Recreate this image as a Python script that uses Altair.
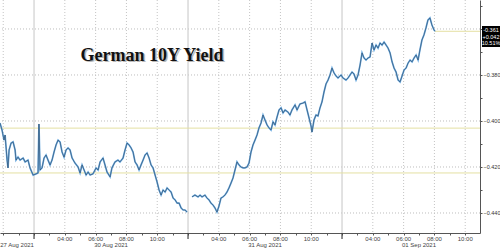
import altair as alt
import pandas as pd

# ---- data (x = session hours; 0 = start of 30 Aug session, each day = 10 session hours) ----
t_a = [-2.21, -2.08, -1.95, -1.88, -1.75, -1.69, -1.62, -1.49, -1.36, -1.23, -1.17, -1.04, -0.91,
       -0.71, -0.58, -0.39, -0.26, -0.06, 0.13, 0.26, 0.32, 0.39, 0.52, 0.65, 0.78, 0.91, 1.04,
       1.17, 1.30, 1.43, 1.56, 1.69, 1.82, 1.95, 2.08, 2.21, 2.34, 2.47, 2.66, 2.86, 2.99, 3.12,
       3.25, 3.38, 3.51, 3.64, 3.83, 4.03, 4.16, 4.29, 4.48, 4.61, 4.74, 4.94, 5.06, 5.26, 5.45,
       5.58, 5.78, 5.91, 6.04, 6.17, 6.30, 6.43, 6.56, 6.69, 6.82, 6.95, 7.08, 7.21, 7.34, 7.47,
       7.60, 7.73, 7.86, 7.99, 8.12, 8.25, 8.38, 8.51, 8.64, 8.77, 8.90, 9.03, 9.16, 9.29, 9.42,
       9.55, 9.68, 9.81, 9.94]
y_a = [-0.4009, -0.4039, -0.4083, -0.4061, -0.4170, -0.4204, -0.4126, -0.4096, -0.4091, -0.4126,
       -0.4170, -0.4157, -0.4170, -0.4161, -0.4178, -0.4170, -0.4204, -0.4235, -0.4230, -0.4226,
       -0.4013, -0.4213, -0.4204, -0.4161, -0.4148, -0.4170, -0.4191, -0.4170, -0.4135, -0.4104,
       -0.4083, -0.4091, -0.4135, -0.4157, -0.4126, -0.4117, -0.4126, -0.4161, -0.4183, -0.4200,
       -0.4226, -0.4191, -0.4213, -0.4235, -0.4222, -0.4235, -0.4230, -0.4204, -0.4213, -0.4178,
       -0.4161, -0.4191, -0.4222, -0.4243, -0.4204, -0.4178, -0.4170, -0.4178, -0.4161, -0.4126,
       -0.4096, -0.4104, -0.4117, -0.4135, -0.4178, -0.4191, -0.4213, -0.4191, -0.4170, -0.4148,
       -0.4139, -0.4161, -0.4191, -0.4204, -0.4235, -0.4265, -0.4300, -0.4322, -0.4300, -0.4309,
       -0.4291, -0.4300, -0.4309, -0.4335, -0.4343, -0.4357, -0.4357, -0.4378, -0.4387, -0.4387,
       -0.4396]
t_b = [10.26, 10.45, 10.65, 10.78, 10.91, 11.10, 11.23, 11.36, 11.49, 11.62, 11.75, 11.88, 12.01,
       12.14, 12.27, 12.40, 12.53, 12.66, 12.79, 12.92, 13.05, 13.18, 13.31, 13.44, 13.57, 13.70,
       13.83, 13.96, 14.09, 14.22, 14.35, 14.48, 14.61, 14.74, 14.87, 15.00, 15.13, 15.26, 15.39,
       15.52, 15.65, 15.78, 15.91, 16.04, 16.17, 16.30, 16.49, 16.62, 16.75, 16.95, 17.08, 17.27,
       17.47, 17.60, 17.73, 17.86, 17.99, 18.05, 18.18, 18.31, 18.44, 18.57, 18.70, 18.83, 18.96,
       19.09, 19.22, 19.35, 19.48, 19.61, 19.74, 19.94, 20.06, 20.26, 20.39, 20.52, 20.65, 20.78,
       20.91, 21.04, 21.17, 21.30, 21.43, 21.56, 21.69, 21.82, 21.95, 22.08, 22.21, 22.34, 22.47,
       22.60, 22.73, 22.86, 22.99, 23.12, 23.25, 23.38, 23.51, 23.64, 23.77, 23.90, 24.03, 24.16,
       24.29, 24.42, 24.55, 24.68, 24.81, 24.94, 25.06, 25.19, 25.32, 25.45, 25.58, 25.71, 25.84,
       25.97, 26.04]
y_b = [-0.4330, -0.4322, -0.4330, -0.4322, -0.4330, -0.4322, -0.4335, -0.4343, -0.4357, -0.4365,
       -0.4378, -0.4396, -0.4370, -0.4335, -0.4330, -0.4322, -0.4309, -0.4291, -0.4270, -0.4248,
       -0.4213, -0.4178, -0.4191, -0.4200, -0.4204, -0.4204, -0.4200, -0.4183, -0.4135, -0.4104,
       -0.4083, -0.4061, -0.4030, -0.4009, -0.3974, -0.3996, -0.4017, -0.4030, -0.4039, -0.4004,
       -0.4017, -0.3983, -0.3952, -0.3943, -0.3965, -0.3952, -0.3961, -0.3974, -0.3952, -0.3930,
       -0.3952, -0.3926, -0.3922, -0.3917, -0.3952, -0.3987, -0.4022, -0.4048, -0.3996, -0.3974,
       -0.3978, -0.3943, -0.3917, -0.3874, -0.3839, -0.3822, -0.3800, -0.3770, -0.3791, -0.3804,
       -0.3813, -0.3800, -0.3813, -0.3822, -0.3813, -0.3800, -0.3787, -0.3796, -0.3822, -0.3800,
       -0.3757, -0.3704, -0.3726, -0.3735, -0.3726, -0.3722, -0.3661, -0.3691, -0.3670, -0.3683,
       -0.3661, -0.3670, -0.3657, -0.3670, -0.3683, -0.3704, -0.3743, -0.3770, -0.3787, -0.3822,
       -0.3830, -0.3804, -0.3778, -0.3770, -0.3748, -0.3735, -0.3743, -0.3726, -0.3713, -0.3735,
       -0.3691, -0.3648, -0.3626, -0.3596, -0.3561, -0.3552, -0.3583, -0.3604, -0.3610]

last_value = -0.361
last_change = "+0.042"
last_pct = "10.51%"
last_label = "-0.361"
yellow_levels = [-0.4031, -0.4226]
major_y = [-0.36, -0.38, -0.40, -0.42, -0.44]
all_y_ticks = [-0.44, -0.43, -0.42, -0.41, -0.40, -0.39, -0.38, -0.37, -0.36, -0.35]
day_names = ["30 Aug 2021", "31 Aug 2021", "01 Sep 2021"]
first_day = "27 Aug 2021"
hour_labels = ["04:00", "06:00", "08:00", "10:00"]
title_text = "German 10Y Yield"

X_MIN, X_MAX = -2.21, 28.96
Y_MIN, Y_MAX = -0.4487, -0.3474

def sess(day_idx, hhmm):
    # session: 02:00-12:00, 10 session hours per day
    return day_idx * 10 + int(hhmm[:2]) - 2

line_df = pd.DataFrame({
    "t": t_a + t_b,
    "y": y_a + y_b,
    "seg": ["a"] * len(t_a) + ["b"] * len(t_b),
})

time_df = pd.DataFrame([
    {"t": sess(i, h), "lab": h} for i in range(len(day_names)) for h in hour_labels
])
date_df = pd.DataFrame({
    "t": [sess(-1, "12:00") - 1.1] + [sess(i, "07:00") for i in range(len(day_names))],
    "lab": [first_day] + day_names,
})
dotted_x = pd.DataFrame({"t": [sess(-1, "10:00")] + list(time_df["t"])})
day_bounds = pd.DataFrame({"t": [sess(i, "02:00") for i in range(len(day_names))]})
hour_ticks = [h for h in range(-2, 29)]

xs = alt.Scale(domain=[X_MIN, X_MAX], nice=False, zero=False)
ys = alt.Scale(domain=[Y_MIN, Y_MAX], nice=False, zero=False)

base_axis_x = alt.Axis(values=hour_ticks, labels=False, ticks=True, tickSize=2, tickColor="#555",
                       domainColor="#555", grid=False, title=None)
y_axis = alt.Axis(orient="right", values=all_y_ticks, grid=False, title=None, tickSize=2,
                  tickColor="#555", domainColor="#555", labelFontSize=5.5, labelFont="Liberation Sans",
                  labelColor="#333", labelPadding=1,
                  labelExpr="(abs(round(datum.value*1000)) % 20 == 0 && abs(round(datum.value*1000)) != 360) ? format(datum.value, '.3f') : ''")

X = lambda: alt.X("t:Q", scale=xs, axis=base_axis_x)
Y = lambda: alt.Y("y:Q", scale=ys, axis=y_axis)

hgrid = alt.Chart(pd.DataFrame({"y": major_y})).mark_rule(
    color="#bdbdbd", strokeDash=[1, 2], strokeWidth=1
).encode(y=Y())

vgrid = alt.Chart(dotted_x).mark_rule(
    color="#c4c4c4", strokeDash=[1, 2], strokeWidth=1
).encode(x=X())

daylines = alt.Chart(day_bounds).mark_rule(color="#cfcfcf", strokeWidth=1.2).encode(
    x=X(), y=alt.value(0), y2=alt.value(233))
daytick = alt.Chart(day_bounds).mark_rule(color="#444", strokeWidth=1.2).encode(
    x=X(), y=alt.value(233), y2=alt.value(239))

yellow = alt.Chart(pd.DataFrame({"y": yellow_levels})).mark_rule(
    color="#e4e0a2", strokeWidth=1).encode(y=Y())

last_line = alt.Chart(pd.DataFrame({"t": [t_b[-1]], "t2": [X_MAX], "y": [last_value]})).mark_rule(
    color="#e4e0a2", strokeWidth=1).encode(x=X(), x2="t2:Q", y=Y())

line_light = alt.Chart(line_df).mark_line(color="#6aaae0", strokeWidth=1.7).encode(
    x=X(), y=Y(), detail="seg:N")
line_dark = alt.Chart(line_df).mark_line(color="#1d2e44", strokeWidth=0.6, opacity=0.8).encode(
    x=X(), y=Y(), detail="seg:N")

time_text = alt.Chart(time_df).mark_text(
    fontSize=6, font="Liberation Sans", color="#444", baseline="middle", align="center"
).encode(x=X(), y=alt.value(238.5), text="lab:N")
date_text = alt.Chart(date_df).mark_text(
    fontSize=6, font="Liberation Sans", color="#444", baseline="middle", align="center"
).encode(x=X(), y=alt.value(244.5), text="lab:N")

box = alt.Chart(pd.DataFrame({"a": [0]})).mark_rect(color="#000000").encode(
    x=alt.value(482), x2=alt.value(500), y=alt.value(26), y2=alt.value(47))

box_texts = []
for lab, py in zip([last_label, last_change, last_pct], [30, 36.5, 43]):
    box_texts.append(alt.Chart(pd.DataFrame({"lab": [lab]})).mark_text(
        fontSize=5.5, font="Liberation Sans", color="white", align="center", baseline="middle"
    ).encode(x=alt.value(491), y=alt.value(py), text="lab:N"))

title_shadow = alt.Chart(pd.DataFrame({"lab": [title_text]})).mark_text(
    font="Liberation Serif", fontWeight="bold", fontSize=18, color="#888", opacity=0.6,
    align="center", baseline="alphabetic"
).encode(x=alt.value(153.5), y=alt.value(62), text="lab:N")
title = alt.Chart(pd.DataFrame({"lab": [title_text]})).mark_text(
    font="Liberation Serif", fontWeight="bold", fontSize=18, color="#111",
    align="center", baseline="alphabetic"
).encode(x=alt.value(152), y=alt.value(60.5), text="lab:N")

chart = alt.layer(
    hgrid, vgrid, daylines, daytick, yellow, last_line, line_light, line_dark,
    time_text, date_text, box, *box_texts, title_shadow, title
).properties(
    width=480, height=233,
    autosize=alt.AutoSizeParams(type="none"),
    padding={"left": 0, "top": 0, "right": 20, "bottom": 15},
    background="white",
).configure_view(strokeWidth=0)

chart.save("out.html", embed_options={"renderer": "svg", "actions": False})
